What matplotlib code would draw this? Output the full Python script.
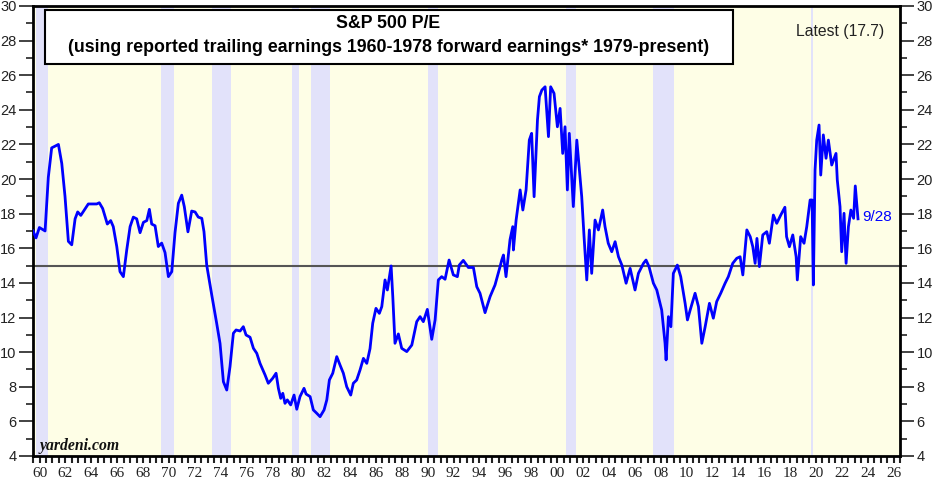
import matplotlib
matplotlib.use("Agg")
import matplotlib.pyplot as plt
from matplotlib.patches import Rectangle
from matplotlib.ticker import MultipleLocator, FixedLocator, FixedFormatter

# S&P 500 P/E (decimal years)
years = [1960.00, 1960.23, 1960.49, 1960.93, 1961.18, 1961.44, 1961.96, 1962.22, 1962.47, 1962.73,
         1962.99, 1963.25, 1963.45, 1963.69, 1964.27, 1964.92, 1965.12, 1965.38, 1965.74, 1966.00,
         1966.20, 1966.47, 1966.72, 1966.98, 1967.24, 1967.50, 1967.75, 1968.01, 1968.27, 1968.53,
         1968.79, 1968.99, 1969.17, 1969.43, 1969.68, 1969.94, 1970.20, 1970.46, 1970.72, 1970.97,
         1971.23, 1971.49, 1971.69, 1971.97, 1972.26, 1972.52, 1972.77, 1973.04, 1973.21, 1973.42,
         1973.81, 1974.19, 1974.45, 1974.71, 1974.97, 1975.22, 1975.48, 1975.69, 1976.00, 1976.25,
         1976.46, 1976.77, 1977.03, 1977.29, 1977.54, 1977.93, 1978.18, 1978.52, 1978.78, 1978.96,
         1979.14, 1979.30, 1979.47, 1979.65, 1979.91, 1980.17, 1980.38, 1980.63, 1980.94, 1981.10,
         1981.41, 1981.66, 1981.92, 1982.18, 1982.49, 1982.70, 1982.90, 1983.16, 1983.47, 1983.72,
         1983.98, 1984.24, 1984.55, 1984.75, 1985.01, 1985.27, 1985.53, 1985.79, 1986.04, 1986.25,
         1986.50, 1986.76, 1986.95, 1987.20, 1987.38, 1987.67, 1987.80, 1987.97, 1988.23, 1988.49,
         1988.88, 1989.27, 1989.65, 1989.91, 1990.16, 1990.47, 1990.81, 1991.07, 1991.32, 1991.58,
         1991.84, 1992.15, 1992.48, 1992.79, 1992.94, 1993.25, 1993.64, 1994.03, 1994.29, 1994.54,
         1994.93, 1995.06, 1995.32, 1995.70, 1996.09, 1996.22, 1996.35, 1996.55, 1996.86, 1997.07,
         1997.12, 1997.33, 1997.64, 1997.85, 1998.10, 1998.35, 1998.53, 1998.72, 1998.98, 1999.13,
         1999.32, 1999.57, 1999.83, 2000.00, 2000.26, 2000.52, 2000.73, 2000.93, 2001.11, 2001.29,
         2001.44, 2001.75, 2002.02, 2002.22, 2002.40, 2002.58, 2002.79, 2002.99, 2003.17, 2003.43,
         2003.69, 2004.02, 2004.20, 2004.45, 2004.72, 2004.98, 2005.24, 2005.50, 2005.83, 2006.14,
         2006.52, 2006.78, 2007.17, 2007.37, 2007.60, 2007.94, 2008.20, 2008.58, 2008.84, 2008.92,
         2009.10, 2009.29, 2009.48, 2009.79, 2010.05, 2010.39, 2010.57, 2010.78, 2011.16, 2011.42,
         2011.68, 2011.94, 2012.27, 2012.57, 2012.83, 2013.14, 2013.48, 2013.73, 2014.07, 2014.38,
         2014.64, 2014.85, 2015.16, 2015.42, 2015.62, 2015.80, 2015.94, 2016.13, 2016.39, 2016.70,
         2016.90, 2017.21, 2017.47, 2017.78, 2018.10, 2018.23, 2018.45, 2018.71, 2018.97, 2019.06,
         2019.32, 2019.58, 2019.79, 2020.05, 2020.20, 2020.30, 2020.43, 2020.56, 2020.74, 2020.87,
         2021.07, 2021.28, 2021.46, 2021.72, 2022.05, 2022.15, 2022.36, 2022.49, 2022.67, 2022.83,
         2023.01, 2023.20, 2023.41, 2023.54, 2023.75]
pe = [17.0, 16.6, 17.2, 17.0, 20.1, 21.8, 22.0, 20.9, 19.0, 16.4,
      16.2, 17.7, 18.1, 17.9, 18.56, 18.56, 18.63, 18.3, 17.4, 17.6,
      17.25, 16.1, 14.65, 14.36, 15.9, 17.25, 17.8, 17.7, 16.9, 17.5,
      17.6, 18.25, 17.4, 17.3, 16.1, 16.3, 15.75, 14.36, 14.65, 16.9,
      18.6, 19.07, 18.4, 16.95, 18.15, 18.1, 17.8, 17.73, 16.96, 15.03,
      13.3, 11.67, 10.5, 8.29, 7.81, 9.16, 11.09, 11.28, 11.22, 11.47,
      10.99, 10.86, 10.22, 9.93, 9.35, 8.68, 8.2, 8.49, 8.78, 7.91,
      7.33, 7.62, 7.04, 7.24, 6.95, 7.52, 6.70, 7.43, 7.91, 7.58,
      7.43, 6.66, 6.47, 6.27, 6.66, 7.24, 8.39, 8.78, 9.74, 9.26,
      8.78, 8.0, 7.52, 8.2, 8.39, 8.97, 9.64, 9.35, 10.2, 11.67,
      12.53, 12.24, 12.63, 14.17, 13.59, 14.98, 13.21, 10.51, 11.05, 10.22,
      10.03, 10.41, 11.76, 12.05, 11.76, 12.47, 10.74, 11.86, 14.17, 14.36,
      14.21, 15.32, 14.46, 14.36, 15.03, 15.3, 14.89, 14.89, 13.78, 13.4,
      12.28, 12.6, 13.21, 13.88, 14.94, 15.32, 15.61, 14.36, 16.5, 17.25,
      15.9, 17.63, 19.37, 18.21, 19.37, 22.25, 22.64, 18.98, 23.41, 24.76,
      25.14, 25.33, 22.45, 25.33, 24.95, 23.02, 24.08, 21.48, 23.02, 19.37,
      22.64, 18.41, 22.25, 20.52, 18.98, 16.67, 14.17, 17.06, 14.55, 17.63,
      17.06, 18.21, 17.25, 16.29, 15.8, 16.38, 15.51, 15.03, 13.98, 14.84,
      13.59, 14.55, 15.13, 15.32, 14.94, 13.98, 13.59, 12.43, 10.51, 9.55,
      12.05, 11.47, 14.55, 15.03, 14.36, 12.82, 11.86, 12.43, 13.4, 12.63,
      10.51, 11.47, 12.82, 11.96, 12.92, 13.4, 13.98, 14.36, 15.13, 15.42,
      15.51, 14.46, 17.06, 16.67, 16.09, 15.13, 16.57, 14.94, 16.77, 16.96,
      16.29, 17.92, 17.44, 17.92, 18.37, 16.67, 16.09, 16.77, 15.51, 14.17,
      16.67, 16.29, 17.25, 18.79, 18.79, 13.88, 20.52, 22.25, 23.12, 20.23,
      22.55, 21.2, 22.25, 20.81, 21.48, 19.94, 18.41, 15.8, 18.02, 15.13,
      17.25, 18.21, 17.73, 19.6, 17.7]

# recessions (shaded)
rec_start = [1960.20, 1969.92, 1973.83, 1980.02, 1981.50, 1990.53, 2001.17, 2007.92, 2020.13]
rec_end = [1961.13, 1970.92, 1975.28, 1980.58, 1982.95, 1991.27, 2001.96, 2009.55, 2020.30]

label_years = list(range(1960, 2027, 2))
label_text = ["%02d" % (y % 100) for y in label_years]

fig = plt.figure(figsize=(9.36, 4.84), dpi=100)
ax = fig.add_axes([0.0353, 0.0579, 0.9263, 0.9298])
ax.set_facecolor("#fefee6")

for s, e in zip(rec_start, rec_end):
    ax.axvspan(s, e, color="#e2e2fa", lw=0, zorder=1)

ax.axhline(15, color="#555555", lw=1.5, zorder=2)
ax.plot(years, pe, color="#0000ff", lw=2, zorder=3)

ax.set_xlim(1960, 2027)
ax.set_ylim(4, 30)

# y axis on both sides
ax.yaxis.set_major_locator(MultipleLocator(2))
ax.yaxis.set_minor_locator(MultipleLocator(1))
ax.tick_params(axis="y", which="both", left=True, right=True, labelleft=True,
               labelright=True, direction="out", width=1.2, colors="#222222")
ax.tick_params(axis="y", which="major", length=10, pad=2, labelsize=10.5)
ax.tick_params(axis="y", which="minor", length=5)
for lab in ax.get_yticklabels():
    lab.set_fontfamily("Liberation Sans")

# x axis: ticks every half year, labels mid-year of even years
ax.xaxis.set_minor_locator(MultipleLocator(0.5))
ax.xaxis.set_major_locator(FixedLocator([y + 0.5 for y in label_years]))
ax.xaxis.set_major_formatter(FixedFormatter(label_text))
ax.tick_params(axis="x", which="both", direction="out", length=5, width=1.5, colors="#222222")
ax.tick_params(axis="x", which="major", pad=3, labelsize=11)
for lab in ax.get_xticklabels():
    lab.set_fontfamily("Liberation Serif")

for sp in ax.spines.values():
    sp.set_linewidth(2)
    sp.set_color("black")

# title box
ax.add_patch(Rectangle((0.0138, 0.871), 0.793, 0.12, transform=ax.transAxes,
                       facecolor="white", edgecolor="black", lw=1.5, zorder=5))
ax.text(0.41, 0.961, "S&P 500 P/E", transform=ax.transAxes, ha="center", va="center",
        fontsize=12.8, fontweight="bold", family="Liberation Sans", zorder=6)
ax.text(0.41, 0.908, "(using reported trailing earnings 1960-1978 forward earnings* 1979-present)",
        transform=ax.transAxes, ha="center", va="center", fontsize=12.8,
        fontweight="bold", family="Liberation Sans", zorder=6)

ax.text(0.9815, 0.943, "Latest (17.7)", transform=ax.transAxes, ha="right", va="center",
        fontsize=11.3, family="Liberation Sans", color="#222222", zorder=6)
ax.text(2024.1, 17.8, "9/28", ha="left", va="center", fontsize=11,
        family="Liberation Sans", color="#0000ff", zorder=6)
ax.text(0.008, 0.022, "yardeni.com", transform=ax.transAxes, ha="left", va="center",
        fontsize=11.3, fontweight="bold", fontstyle="italic", family="Liberation Serif",
        color="#111111", zorder=6)

fig.savefig("out.png", dpi=100)
